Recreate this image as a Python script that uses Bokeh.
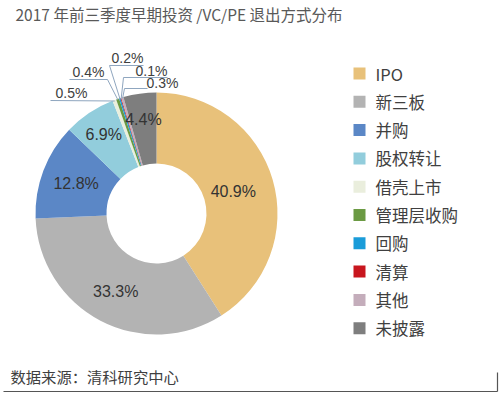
import math
from bokeh.plotting import figure
from bokeh.models import Range1d, ColumnDataSource
from bokeh.core.properties import value
from bokeh.embed import file_html
from bokeh.resources import INLINE

# ---------------- data ----------------
title_text = "2017 年前三季度早期投资 /VC/PE 退出方式分布"
source_text = "数据来源：清科研究中心"
categories = ["IPO", "新三板", "并购", "股权转让", "借壳上市",
              "管理层收购", "回购", "清算", "其他", "未披露"]
shares = [40.9, 33.3, 12.8, 6.9, 0.5, 0.4, 0.2, 0.1, 0.3, 4.4]
colors = ["#E8C17A", "#B3B3B3", "#5B87C6", "#92CDDC", "#EAEEDD",
          "#6B9A43", "#1A9CD9", "#C8161E", "#C4ADBB", "#7E7E7E"]

# ---------------- layout (page pixels) ----------------
W, H = 503, 396
FONT = value("Noto Sans CJK SC")
NUMFONT = value("Liberation Sans")
cx, cy = 156, -213          # data y = -page y
r_out, r_in = 121, 50
inside_label_r = {"IPO": 80, "新三板": 88, "并购": 86, "股权转让": 95, "未披露": 95}
# leader layout: (label centre, elbow point, line end away from slice)
leader_layout = {
    "借壳上市": ((71, 92), (50, 100), None),
    "管理层收购": ((88, 71), (107, 79), (69, 79)),
    "回购": ((127, 57), (109, 65), (143, 65)),
    "清算": ((151, 70), (123, 77), (167, 77)),
    "其他": ((162, 82), (124, 88), (147, 88)),
}

p = figure(width=W, height=H, output_backend="svg", toolbar_location=None,
           x_range=Range1d(0, W), y_range=Range1d(-H, 0),
           x_axis_type=None, y_axis_type=None, min_border=0)
p.grid.visible = False
p.outline_line_color = None
p.background_fill_color = "white"
p.border_fill_color = "white"

# ---------------- donut ----------------
total = sum(shares)
starts, ends, mids = [], [], []
cum = 0.0
for s in shares:
    a0 = 2 * math.pi * cum / total
    a1 = 2 * math.pi * (cum + s) / total
    starts.append(math.pi / 2 - a0)
    ends.append(math.pi / 2 - a1)
    mids.append((a0 + a1) / 2)      # clockwise from 12 o'clock
    cum += s

src = ColumnDataSource(dict(start=starts, end=ends, color=colors))
p.annular_wedge(x=cx, y=cy, inner_radius=r_in, outer_radius=r_out,
                start_angle="start", end_angle="end", direction="clock",
                fill_color="color", line_color=None, source=src)

# inside labels
lx, ly, lt = [], [], []
for cat, s, m in zip(categories, shares, mids):
    if cat in inside_label_r:
        r = inside_label_r[cat]
        lx.append(cx + r * math.sin(m))
        ly.append(cy + r * math.cos(m))
        lt.append(f"{s:.1f}%")
p.text(x=lx, y=ly, text=lt, text_font=NUMFONT, text_font_size="16px",
       text_color="#333333", text_align="center", text_baseline="middle")

# leader lines and labels
xs, ys, tx, ty, tt = [], [], [], [], []
for cat, s, m in zip(categories, shares, mids):
    if cat not in leader_layout:
        continue
    (lcx, lcy), (ex, ey), far = leader_layout[cat]
    px = cx + (r_out - 1) * math.sin(m)
    py = cy + (r_out - 1) * math.cos(m)
    lx_ = [px, ex]
    ly_ = [py, -ey]
    if far is not None:
        lx_.append(far[0])
        ly_.append(-far[1])
    xs.append(lx_)
    ys.append(ly_)
    tx.append(lcx)
    ty.append(-lcy)
    tt.append(f"{s:.1f}%")
p.multi_line(xs=xs, ys=ys, line_color="#8FA6BF", line_width=1)
p.text(x=tx, y=ty, text=tt, text_font=NUMFONT, text_font_size="14px",
       text_color="#404040", text_align="center", text_baseline="middle")

# ---------------- legend ----------------
leg_y = [-(73 + i * 28.3) for i in range(len(categories))]
p.rect(x=[359] * len(categories), y=leg_y, width=12, height=12,
       fill_color=colors, line_color=None)
p.text(x=[375] * len(categories), y=leg_y, text=categories, text_font=FONT,
       text_font_size="16.5px", text_color="#404040",
       text_align="left", text_baseline="middle")

# ---------------- title and footer ----------------
p.text(x=[15], y=[-13], text=[title_text], text_font=FONT,
       text_font_size="15.5px", text_color="#595959",
       text_align="left", text_baseline="middle")
p.text(x=[10], y=[-375], text=[source_text], text_font=FONT,
       text_font_size="15.3px", text_color="#404040",
       text_align="left", text_baseline="middle")
p.line(x=[3, 497], y=[-391, -391], line_color="#555555", line_width=1.2)
p.line(x=[497, 497], y=[-372, -391], line_color="#555555", line_width=1.2)

open("out.html", "w").write(file_html(p, INLINE))
